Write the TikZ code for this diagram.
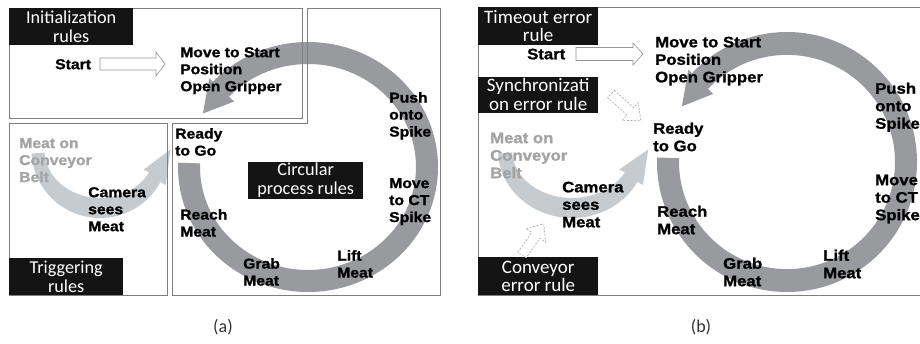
\documentclass[tikz,border=0pt]{standalone}
\usepackage{fontspec}
\setmainfont{Liberation Sans}
\newfontfamily\heavy[FakeStretch=1.1, FakeBold=1.2]{Liberation Sans}
\newfontfamily\lab{Carlito}
\definecolor{ringgray}{RGB}{153,154,158}
\definecolor{beltgray}{RGB}{198,203,207}
\definecolor{meatgray}{RGB}{163,163,163}
\definecolor{tagblack}{RGB}{20,20,20}
\definecolor{framegray}{RGB}{127,127,127}
\definecolor{arrowgray}{RGB}{150,150,150}
\definecolor{ghostgray}{RGB}{165,165,165}
\tikzset{
  proc/.style={anchor=north west, inner sep=0pt, align=left,
    font=\heavy\bfseries\fontsize{14.3}{17}\selectfont},
  procb/.style={proc, font=\heavy\bfseries\fontsize{15.2}{17.5}\selectfont},
  feed/.style={proc, text=meatgray},
  feedb/.style={procb, text=meatgray},
  tag/.style={anchor=north west, fill=tagblack, text=white, inner sep=0pt,
    align=center, font=\lab\fontsize{18.2}{18.3}\selectfont},
  tagb/.style={tag, font=\lab\fontsize{19}{18.6}\selectfont},
  frame/.style={draw=framegray, line width=0.8pt},
  hollow/.style={draw=arrowgray, fill=white, line width=0.6pt},
  ghost/.style={draw=ghostgray, fill=white, line width=0.6pt,
    dash pattern=on 2pt off 1.5pt},
  caption/.style={font=\lab\fontsize{18}{20}\selectfont, text=black!80}
}
\newcommand\beltarrow{%
  \fill[beltgray] ({68.5*cos(177)},{68*sin(177)})
    arc[start angle=177, end angle=28, x radius=68.5, y radius=68]
    -- (65.7,35) -- (70.6,-0.6) -- (43.8,19.5)
    -- ({55.5*cos(28)},{48*sin(28)})
    arc[start angle=28, end angle=177, x radius=55.5, y radius=48] -- cycle;}
\newcommand\cyclearrow{%
  \fill[ringgray] ({130*cos(182)},{125*sin(182)})
    arc[start angle=182, end angle=-137, x radius=130, y radius=125]
    -- ({135*cos(-137)},{130*sin(-137)})
    -- ({119*cos(-152)},{114*sin(-152)})
    -- ({101*cos(-137)},{96*sin(-137)})
    -- ({108*cos(-137)},{103*sin(-137)})
    arc[start angle=-137, end angle=182, x radius=108, y radius=103] -- cycle;}
\begin{document}
\begin{tikzpicture}[x=1pt, y=-1pt]
\useasboundingbox (0,0) rectangle (920,343);
\clip (0,0) rectangle (920,343);

% ---------- panel (a) ----------
\begin{scope}[shift={(100,150)}] \beltarrow \end{scope}
\begin{scope}[shift={(308,167)}] \cyclearrow \end{scope}

\draw[frame] (9,8) rectangle (302,118);
\draw[frame] (307,8) -- (440,8) -- (440,295) -- (172,295) -- (172,123) -- (307,123) -- cycle;
\draw[frame] (9,123) rectangle (167,295);

\node[tag, minimum width=124pt, minimum height=37pt] (initA) at (9,8) {Initialization\\rules};
\node[tag, minimum width=114pt, minimum height=37pt] (trigA) at (9,258) {Triggering\\rules};
\node[tag, minimum width=115pt, minimum height=37pt] (circA) at (248,161.5) {Circular\\process rules};

\draw[hollow] (100,58) -- (156,58) -- (156,52) -- (165,64) -- (156,76) -- (156,70) -- (100,70) -- cycle;

\node[proc] (startA) at (55,59) {Start};
\node[proc] (moveA) at (180,47) {Move to Start\\Position\\Open Gripper};
\node[proc] (readyA) at (175,128) {Ready\\to Go};
\node[proc] (pushA) at (389,92) {Push\\onto\\Spike};
\node[proc] (ctA) at (389,178) {Move\\to CT\\Spike};
\node[proc] (liftA) at (337,250) {Lift\\Meat};
\node[proc] (grabA) at (243,258) {Grab\\Meat};
\node[proc] (reachA) at (180,209) {Reach\\Meat};
\node[feed] (beltA) at (19,138) {Meat on\\Conveyor\\Belt};
\node[proc] (camA) at (88,187) {Camera\\sees\\Meat};

\node[caption] (capA) at (223,327) {(a)};

% ---------- panel (b) ----------
\begin{scope}[shift={(572,150)}, xscale=1.08] \beltarrow \end{scope}
\begin{scope}[shift={(787,162)}, yscale=1.04] \cyclearrow \end{scope}

\draw[frame] (930,7) -- (478,7) -- (478,295) -- (930,295);

\node[tagb, minimum width=120pt, minimum height=38pt] (timeB) at (478,7) {Timeout error\\rule};
\node[tagb, minimum width=120pt, minimum height=36pt] (syncB) at (478,76.5) {Synchronizati\\on error rule};
\node[tagb, minimum width=120pt, minimum height=38pt] (convB) at (478,257) {Conveyor\\error rule};

\draw[hollow] (576,47.5) -- (633,47.5) -- (633,43) -- (643,54) -- (633,65) -- (633,60.5) -- (576,60.5) -- cycle;

\begin{scope}[shift={(611,94)}, rotate=-42]
  \draw[ghost] (0,-5) -- (26,-5) -- (26,-12) -- (40,0) -- (26,12) -- (26,5) -- (0,5) -- cycle;
\end{scope}
\begin{scope}[shift={(522,255)}, rotate=55]
  \draw[ghost] (0,-5) -- (24,-5) -- (24,-12) -- (38,0) -- (24,12) -- (24,5) -- (0,5) -- cycle;
\end{scope}

\node[procb] (startB) at (527,48.5) {Start};
\node[procb] (moveB) at (655,36.5) {Move to Start\\Position\\Open Gripper};
\node[procb] (readyB) at (653,122.5) {Ready\\to Go};
\node[procb] (pushB) at (875,82.5) {Push\\onto\\Spike};
\node[procb] (ctB) at (875,174.5) {Move\\to CT\\Spike};
\node[procb] (liftB) at (823,249.5) {Lift\\Meat};
\node[procb] (grabB) at (723,257.5) {Grab\\Meat};
\node[procb] (reachB) at (657,205.5) {Reach\\Meat};
\node[feedb] (beltB) at (490,132.5) {Meat on\\Conveyor\\Belt};
\node[procb] (camB) at (562,181.5) {Camera\\sees\\Meat};

\node[caption] (capB) at (701,327) {(b)};
\end{tikzpicture}
\end{document}
